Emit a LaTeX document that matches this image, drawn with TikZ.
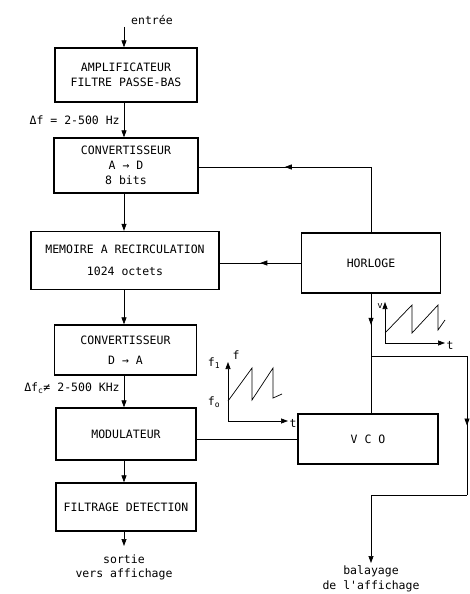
\documentclass[tikz,border=0pt]{standalone}
\usepackage{fontspec}
\newfontfamily\typew{DejaVu Sans Mono}
\usetikzlibrary{arrows.meta,positioning,decorations.markings}

\tikzset{
  block/.style={draw, line width=1.3pt, align=center, inner sep=2pt,
    font=\typew\fontsize{11.5}{15}\selectfont},
  lbl/.style={font=\typew\fontsize{11.5}{14}\selectfont, inner sep=1pt},
  link/.style={line width=0.7pt},
  arr/.style={link, -{Triangle[length=7pt,width=5pt]}},
  midarr/.style={link, postaction=decorate, decoration={markings,
    mark=at position 0.5 with {\arrow{Triangle[length=7pt,width=5pt]}}}},
}

\begin{document}
\begin{tikzpicture}[x=1pt, y=-1pt]
\useasboundingbox (0,0) rectangle (469,594);

% chaine principale
\node[block, minimum width=142pt, minimum height=54pt] (ampli) at (126,75)
  {AMPLIFICATEUR\\FILTRE PASSE-BAS};
\node[block, minimum width=144pt, minimum height=55pt] (cad) at (126,165.5)
  {CONVERTISSEUR\\A → D\\8 bits};
\node[block, minimum width=188pt, minimum height=58pt] (mem) at (125,260.5)
  {MEMOIRE A RECIRCULATION\\[7pt]1024 octets};
\node[block, minimum width=142pt, minimum height=50pt] (cda) at (125.5,350)
  {CONVERTISSEUR\\[5pt]D → A};
\node[block, minimum width=140pt, minimum height=52pt] (modul) at (126,434)
  {MODULATEUR};
\node[block, minimum width=140pt, minimum height=48pt] (filtre) at (126,507)
  {FILTRAGE DETECTION};

\node[block, minimum width=139pt, minimum height=60pt] (horloge) at (371,263)
  {HORLOGE};
\node[block, minimum width=140pt, minimum height=50pt] (vco) at (368,439)
  {V C O};

% entree / sortie
\coordinate (in) at (124,27);
\node[lbl, anchor=west] (entree) at (130,20) {entrée};
\draw[arr] (in) -- (in |- ampli.north);
\draw[arr] (ampli.south -| in) -- (in |- cad.north)
  node[lbl, midway, left=3pt] {Δf = 2-500 Hz};
\draw[arr] (cad.south -| in) -- (in |- mem.north);
\draw[arr] (mem.south -| in) -- (in |- cda.north);
\draw[arr] (cda.south -| in) -- (in |- modul.north)
  node[lbl, pos=0.4, left=3pt] {Δf\textsubscript{c}≠ 2-500 KHz};
\draw[arr] (modul.south -| in) -- (in |- filtre.north);
\coordinate (out) at (124,546);
\draw[arr] (filtre.south -| in) -- (out);
\node[lbl, below=8pt of out, align=center] (sortie) {sortie\\vers affichage};

% horloge
\coordinate (hc) at (371,167);
\draw[link] (horloge.north) -- (hc);
\draw[midarr] (hc) -- (hc -| cad.east);
\draw[midarr] (horloge.west) -- (horloge.west -| mem.east);
\coordinate (br) at (371,356);
\draw[midarr] (horloge.south) -- (br);
\draw[link] (br) -- (br |- vco.north);
\coordinate (re) at (467,356);
\coordinate (rb) at (467,495);
\draw[link] (br) -- (re);
\draw[midarr] (re) -- (rb);
\coordinate (swp) at (371,563);
\draw[arr] (rb) -| (swp);
\node[lbl, below=1pt of swp, align=center, font=\typew\fontsize{11.5}{15}\selectfont]
  (balayage) {balayage\\de l'affichage};

% modulateur - vco
\draw[link] (vco.west) -- (vco.west -| modul.east);

% dent de scie horloge
\draw[arr] (385,343) -- (385,302);
\draw[arr] (385,343) -- (445,343);
\node[lbl, font=\typew\fontsize{9}{10}\selectfont] at (380,306) {v};
\node[lbl] at (450,345) {t};
\draw[link] (385,333) -- (412,305) -- (412,333) -- (438,305) -- (438,330) -- (445,320);

% dent de scie vco
\draw[arr] (228,421) -- (228,362);
\draw[arr] (228,421) -- (288,421);
\node[lbl] at (236,355) {f};
\node[lbl] at (293,423) {t};
\node[lbl] at (214,363) {f\textsubscript{1}};
\node[lbl] at (214,402) {f\textsubscript{o}};
\draw[link] (228,401) -- (252,368) -- (252,400) -- (273,368) -- (273,398) -- (282,394);
\end{tikzpicture}
\end{document}
